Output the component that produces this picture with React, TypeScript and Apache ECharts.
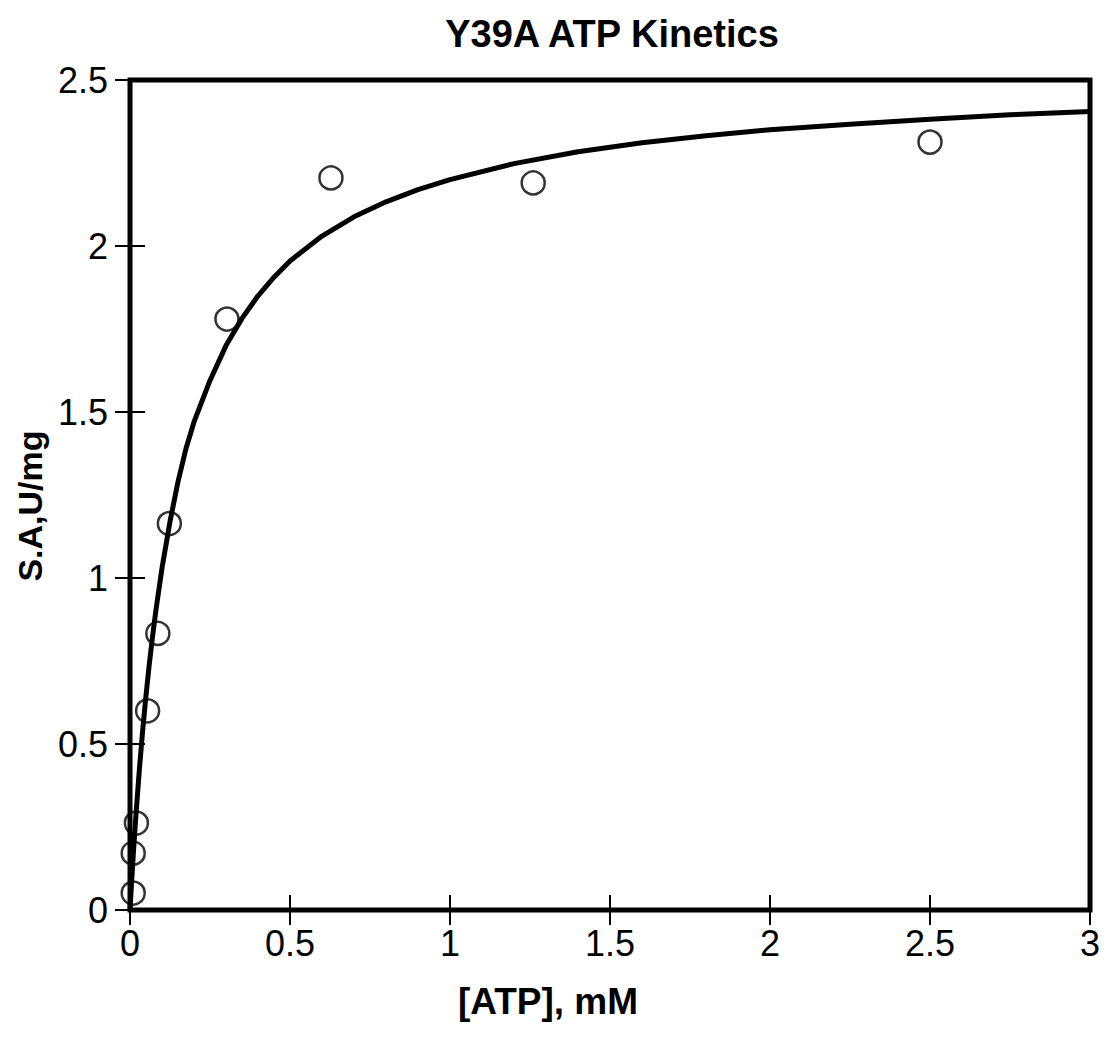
import React, { useEffect, useRef } from "react";
import * as echarts from "echarts";

const titleText = "Y39A ATP Kinetics";
const xName = "[ATP], mM";
const yName = "S.A,U/mg";

// measured data points (ATP mM, specific activity U/mg)
const pointX = [0.01, 0.01, 0.02, 0.055, 0.087, 0.123, 0.303, 0.628, 1.26, 2.5];
const pointY = [0.051, 0.171, 0.262, 0.6, 0.833, 1.164, 1.78, 2.205, 2.19, 2.313];

// fitted curve
const curveX = [0, 0.005, 0.01, 0.015, 0.02, 0.03, 0.04, 0.05, 0.06, 0.07, 0.08, 0.1, 0.125, 0.15, 0.175, 0.2, 0.25, 0.3, 0.35, 0.4, 0.45, 0.5, 0.6, 0.7, 0.8, 0.9, 1.0, 1.2, 1.4, 1.6, 1.8, 2.0, 2.25, 2.5, 2.75, 3.0];
const curveY = [0, 0.084, 0.163, 0.236, 0.305, 0.432, 0.545, 0.646, 0.738, 0.82, 0.896, 1.03, 1.17, 1.29, 1.39, 1.47, 1.595, 1.7, 1.782, 1.85, 1.906, 1.955, 2.03, 2.088, 2.133, 2.17, 2.2, 2.248, 2.284, 2.311, 2.332, 2.35, 2.367, 2.382, 2.395, 2.405];

const xTicks = { min: 0, max: 3, interval: 0.5 };
const yTicks = { min: 0, max: 2.5, interval: 0.5 };

export default function App() {
  const ref = useRef<HTMLDivElement>(null);
  useEffect(() => {
    document.body.style.margin = "0";
    const chart = echarts.init(ref.current!, null, { renderer: "svg" });
    const font = "'Liberation Sans', Arial, sans-serif";
    const tick = { show: true, inside: true, length: 15, lineStyle: { color: "#000", width: 2 } };
    const fmt = (v: number) => String(v);
    chart.setOption({
      animation: false,
      backgroundColor: "#fff",
      title: {
        text: titleText,
        left: 607,
        top: 10,
        textAlign: "center",
        textStyle: { fontFamily: font, fontWeight: "bold", fontSize: 38, color: "#000" },
      },
      graphic: [
        {
          type: "text",
          x: 548,
          y: 1001,
          style: {
            text: xName, fontFamily: font, fontWeight: "bold", fontSize: 37, fill: "#000",
            align: "center", verticalAlign: "middle",
          },
        },
        {
          type: "text",
          x: 30,
          y: 506,
          rotation: Math.PI / 2,
          style: {
            text: yName, fontFamily: font, fontWeight: "bold", fontSize: 34, fill: "#000",
            align: "center", verticalAlign: "middle",
          },
        },
      ],
      grid: {
        left: 130, right: 14, top: 80, bottom: 128,
        show: true, borderColor: "#000", borderWidth: 5, backgroundColor: "transparent",
      },
      xAxis: [
        {
          type: "value", ...xTicks, position: "bottom",
          axisLine: { show: false }, splitLine: { show: false }, axisTick: tick,
          axisLabel: { fontFamily: font, fontSize: 36, color: "#000", margin: 15, formatter: fmt },
        },
        {
          type: "value", ...xTicks, position: "top",
          axisLine: { show: false }, splitLine: { show: false }, axisTick: tick,
          axisLabel: { show: false },
        },
      ],
      yAxis: [
        {
          type: "value", ...yTicks, position: "left",
          axisLine: { show: false }, splitLine: { show: false }, axisTick: tick,
          axisLabel: { fontFamily: font, fontSize: 36, color: "#000", margin: 22, formatter: fmt },
        },
        {
          type: "value", ...yTicks, position: "right",
          axisLine: { show: false }, splitLine: { show: false }, axisTick: tick,
          axisLabel: { show: false },
        },
      ],
      series: [
        {
          type: "line",
          data: curveX.map((x, i) => [x, curveY[i]]),
          showSymbol: false,
          smooth: false,
          lineStyle: { color: "#000", width: 5, join: "round" },
          z: 2,
        },
        {
          type: "scatter",
          data: pointX.map((x, i) => [x, pointY[i]]),
          symbol: "circle",
          symbolSize: 23,
          itemStyle: { color: "rgba(0,0,0,0)", borderColor: "#000", borderWidth: 2.5 },
          z: 3,
        },
      ],
    });
    return () => chart.dispose();
  }, []);
  return <div ref={ref} style={{ width: 1104, height: 1038 }} />;
}
